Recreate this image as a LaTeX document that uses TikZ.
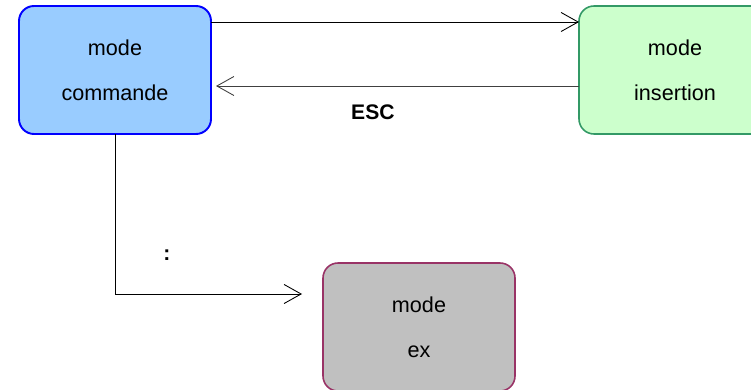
\documentclass[tikz,border=0pt]{standalone}
\usepackage{fontspec}
\setmainfont{Liberation Sans}
\usepackage{xcolor}
\usetikzlibrary{arrows.meta, positioning}
\definecolor{cmdfill}{HTML}{99CCFF}
\definecolor{insfill}{HTML}{CCFFCC}
\definecolor{insdraw}{HTML}{339966}
\definecolor{exfill}{HTML}{C0C0C0}
\definecolor{exdraw}{HTML}{993366}
\tikzset{%
	modebox/.style={draw, rectangle, rounded corners=0.3cm, minimum width=3.84cm,%
		minimum height=2.56cm, align=center, inner sep=0mm, outer sep=0pt,%
		font=\fontsize{12.3}{25.5}\selectfont},
	cmdbox/.style={fill=cmdfill, draw=blue, line width=1.1pt},
	insbox/.style={fill=insfill, draw=insdraw, line width=0.9pt},
	exbox/.style={fill=exfill, draw=exdraw, line width=0.9pt},
	sel/.style={-{Straight Barb[length=0.34cm, width=0.38cm]}, line width=0.5pt},
	lbl/.style={font=\fontsize{12}{14}\selectfont\bfseries}
}
\begin{document}
\begin{tikzpicture}
	\clip (0,0) rectangle (15.02,-7.8);
	\node[modebox, cmdbox] (cmd) at (2.30,-1.40) {mode\\commande};
	\node[modebox, insbox] (ins) [right=7.36cm of cmd] {mode\\insertion};
	\node[modebox, exbox] (ex) [below right=2.58cm and 2.24cm of cmd] {mode\\ex};
	\draw [sel] ([yshift=-0.32cm]cmd.north east) to ([yshift=-0.32cm]ins.north west);
	\draw [sel, draw=black!75, shorten >=0.1cm] ([yshift=-0.32cm]ins.west) to
		node[lbl, pos=0.56, yshift=-0.52cm, text=black]{ESC} ([yshift=-0.32cm]cmd.east);
	\draw [sel, shorten >=0.42cm] (cmd.south) |-
		node[lbl, pos=0.625, yshift=0.78cm]{:} ([yshift=-0.62cm]ex.north west);
\end{tikzpicture}
\end{document}
